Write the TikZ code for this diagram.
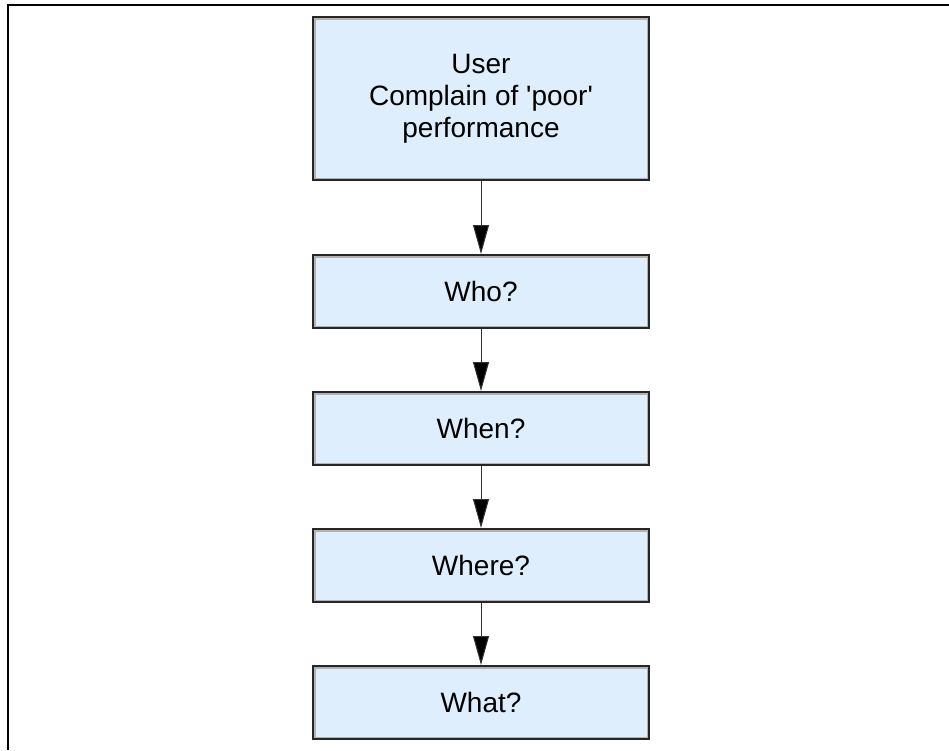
\documentclass[tikz,border=0pt]{standalone}
\usepackage{fontspec}
\setmainfont{Liberation Sans}
\usetikzlibrary{arrows.meta}
\definecolor{boxblue}{RGB}{222,238,252}

\begin{document}
\begin{tikzpicture}[x=1pt,y=1pt,->,>={Triangle[length=29pt,width=16pt]},shorten >=0pt,
  node distance=137pt,line width=1pt,
  ask node/.style={rectangle,fill=boxblue,draw=black!85,line width=2pt,
    minimum width=336pt,minimum height=73pt,align=center,
    font=\fontsize{28}{32}\selectfont,
    path picture={\draw[-,black!30,line width=5pt] (path picture bounding box.south west) rectangle (path picture bounding box.north east);}}]
  \useasboundingbox (0,0) rectangle (949,-750);
  \draw[-,line width=1.2pt] (8,-750) |- (949,-5);
  \node[ask node, minimum height=163pt] (user) at (481,-98.5) {User\\Complain of \textquotesingle poor\textquotesingle\\performance};
  \node[ask node] (who) [below of=user, node distance=193pt] {Who?};
  \node[ask node] (when) [below of=who] {When?};
  \node[ask node] (where) [below of=when] {Where?};
  \node[ask node] (what) [below of=where] {What?};
  \path[draw=black!80]
     (user) edge (who)
     (who) edge (when)
     (when) edge (where)
     (where) edge (what);
\end{tikzpicture}
\end{document}
